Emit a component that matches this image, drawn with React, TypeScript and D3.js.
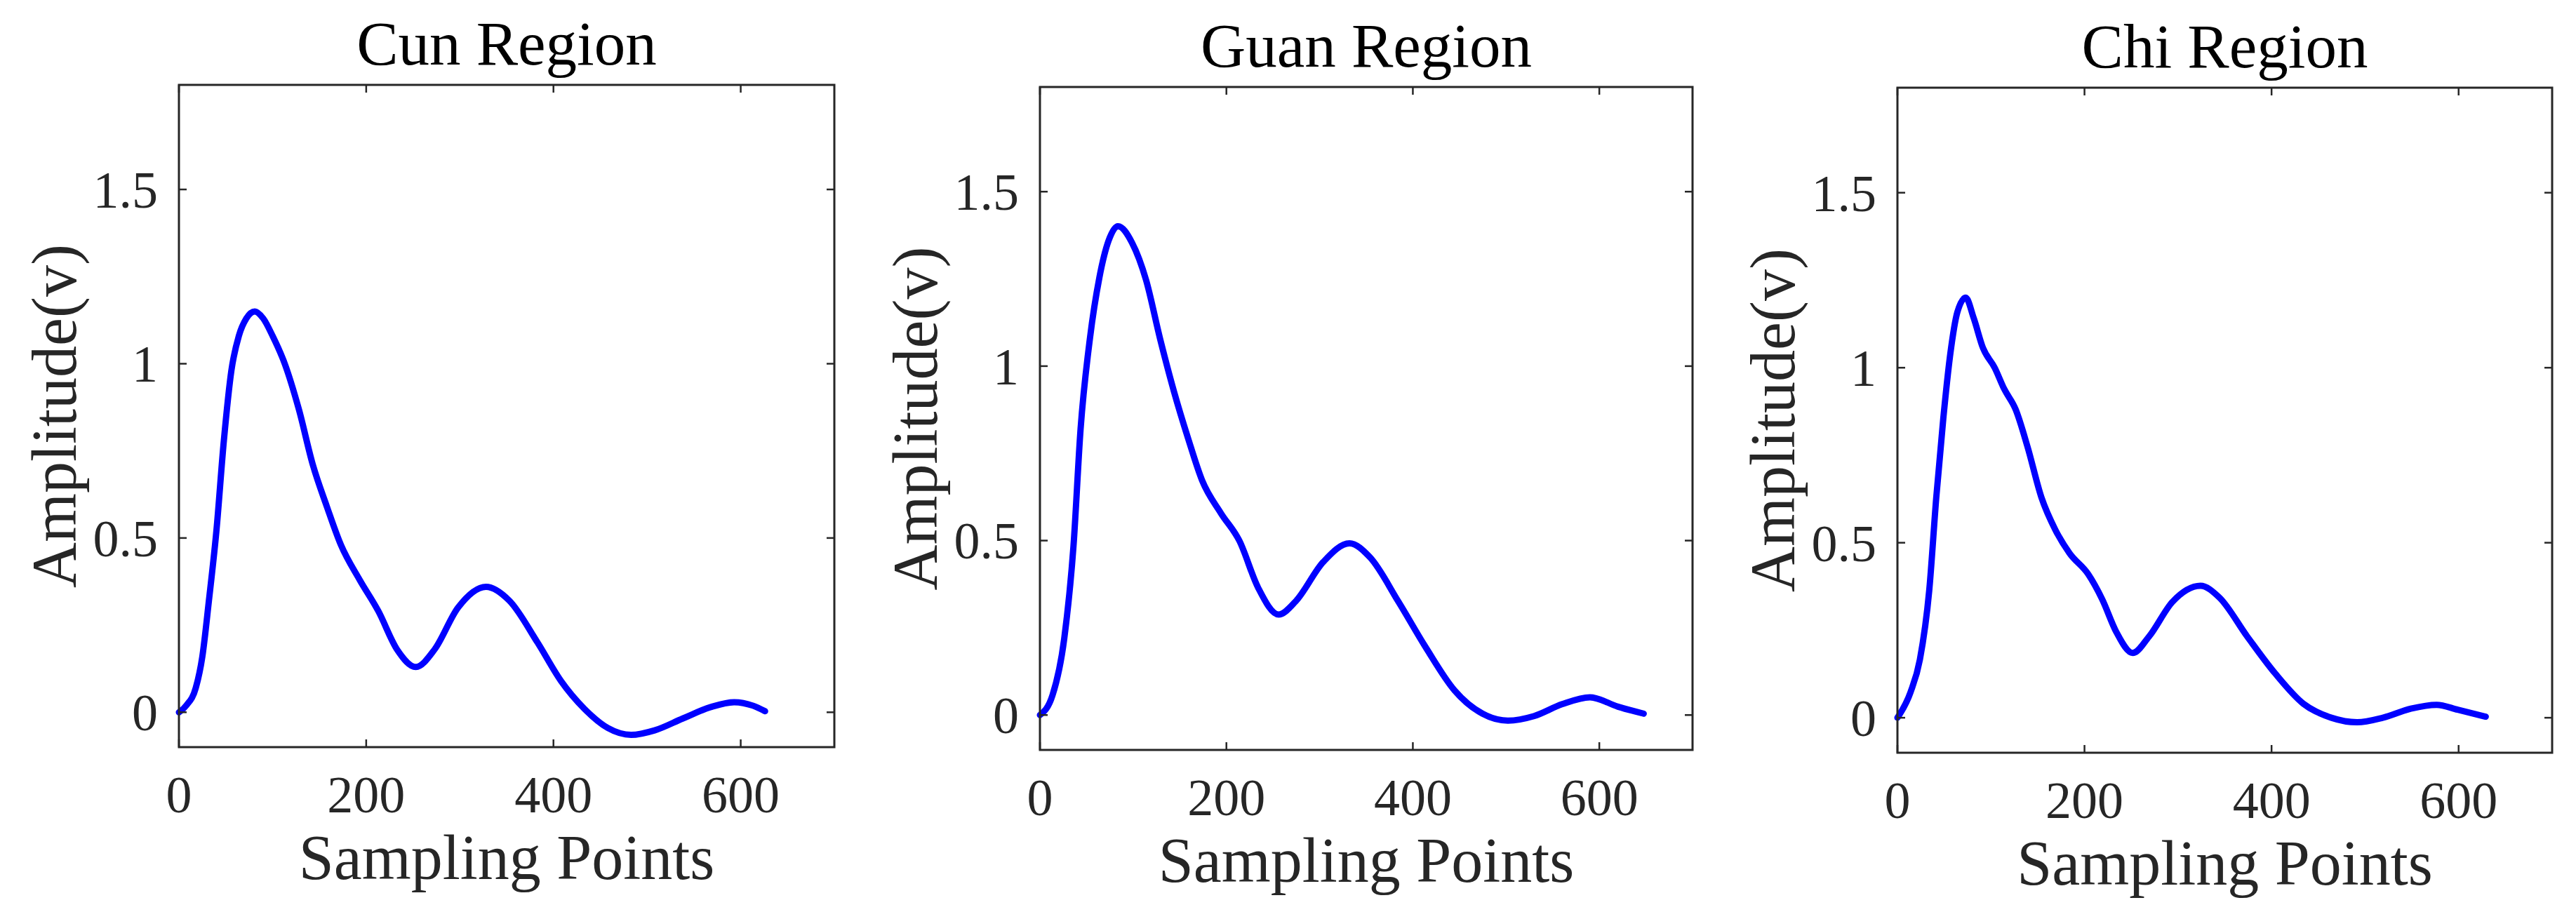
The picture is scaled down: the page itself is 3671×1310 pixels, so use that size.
import React from "react";
import * as d3 from "d3";

// ---- Data ----
const titles = ["Cun Region", "Guan Region", "Chi Region"];
const xTicks = [0, 200, 400, 600];
const yTicks = [0, 0.5, 1, 1.5];
const yTickLabels = ["0", "0.5", "1", "1.5"];
const xLabel = "Sampling Points";
const yLabel = "Amplitude(v)";

const cunX = [0, 8, 18, 25, 32, 40, 48, 56, 64, 72, 81, 90, 100, 113, 128, 143, 158, 173, 193, 213, 233, 253, 273, 298, 328, 353, 383, 408, 433, 458, 483, 508, 538, 568, 593, 613, 626];
const cunY = [0, 0.02, 0.07, 0.16, 0.32, 0.52, 0.78, 0.98, 1.08, 1.13, 1.15, 1.13, 1.08, 1.0, 0.87, 0.71, 0.59, 0.48, 0.38, 0.29, 0.18, 0.13, 0.18, 0.3, 0.36, 0.32, 0.2, 0.09, 0.01, -0.045, -0.065, -0.052, -0.018, 0.015, 0.029, 0.019, 0.003];

const guanX = [0, 13.5, 26, 36, 43.6, 53.6, 63.7, 73.7, 83.7, 98.7, 113.8, 128.8, 143.9, 158.9, 174, 194, 214, 234, 256, 274, 304, 332, 354, 384.5, 414.5, 444.6, 474.7, 502, 530, 560, 590, 620, 647.6];
const guanY = [0, 0.057, 0.218, 0.485, 0.82, 1.079, 1.253, 1.36, 1.401, 1.354, 1.247, 1.079, 0.926, 0.793, 0.672, 0.579, 0.499, 0.365, 0.288, 0.325, 0.439, 0.492, 0.452, 0.325, 0.191, 0.071, 0.004, -0.016, -0.003, 0.031, 0.051, 0.024, 0.004];

const chiX = [0, 14, 24, 34, 41.5, 49, 56.5, 64, 73, 81.5, 91.5, 104, 114, 126.5, 139, 154, 169, 184, 204, 219, 234, 251.5, 269, 294, 324, 344, 374, 404, 434, 464, 491.5, 519, 549, 576.5, 599, 629];
const chiY = [0, 0.073, 0.166, 0.364, 0.629, 0.854, 1.039, 1.158, 1.2, 1.142, 1.056, 1.0, 0.94, 0.88, 0.775, 0.629, 0.536, 0.47, 0.41, 0.338, 0.245, 0.185, 0.232, 0.331, 0.377, 0.344, 0.232, 0.126, 0.04, 0, -0.013, 0, 0.026, 0.037, 0.023, 0.003];

const seriesX = [cunX, guanX, chiX];
const seriesY = [cunY, guanY, chiY];

// ---- Layout ----
const W = 3671;
const H = 1310;
const panels = [
  { left: 255, right: 1189, top: 121, bottom: 1065 },
  { left: 1482, right: 2412, top: 124, bottom: 1069 },
  { left: 2704, right: 3637, top: 125, bottom: 1073 },
];
const FONT = "'Liberation Serif', 'Times New Roman', serif";
const AXIS_COLOR = "#262626";
const TICK_LEN = 11;

function Panel({ idx }: { idx: number }) {
  const p = panels[idx];
  const x = d3.scaleLinear().domain([0, 700]).range([p.left, p.right]);
  const y = d3.scaleLinear().domain([-0.1, 1.8]).range([p.bottom, p.top]);
  const pts: [number, number][] = seriesX[idx].map((v, i) => [v, seriesY[idx][i]]);
  const line = d3
    .line<[number, number]>()
    .x((d) => x(d[0]))
    .y((d) => y(d[1]))
    .curve(d3.curveMonotoneX);
  const cx = (p.left + p.right) / 2;
  const cy = (p.top + p.bottom) / 2;
  return (
    <g>
      <path d={line(pts) || ""} fill="none" stroke="#0000ff" strokeWidth={9} strokeLinejoin="round" strokeLinecap="round" />
      <rect x={p.left} y={p.top} width={p.right - p.left} height={p.bottom - p.top} fill="none" stroke={AXIS_COLOR} strokeWidth={3} />
      {xTicks.map((t) => (
        <g key={"xt" + t}>
          <line x1={x(t)} x2={x(t)} y1={p.bottom} y2={p.bottom - TICK_LEN} stroke={AXIS_COLOR} strokeWidth={2.5} />
          <line x1={x(t)} x2={x(t)} y1={p.top} y2={p.top + TICK_LEN} stroke={AXIS_COLOR} strokeWidth={2.5} />
          <text x={x(t)} y={p.bottom + 93} textAnchor="middle" fontFamily={FONT} fontSize={74} fill={AXIS_COLOR}>
            {t}
          </text>
        </g>
      ))}
      {yTicks.map((t, i) => (
        <g key={"yt" + t}>
          <line x1={p.left} x2={p.left + TICK_LEN} y1={y(t)} y2={y(t)} stroke={AXIS_COLOR} strokeWidth={2.5} />
          <line x1={p.right} x2={p.right - TICK_LEN} y1={y(t)} y2={y(t)} stroke={AXIS_COLOR} strokeWidth={2.5} />
          <text x={p.left - 30} y={y(t)} dy="0.35em" textAnchor="end" fontFamily={FONT} fontSize={74} fill={AXIS_COLOR}>
            {yTickLabels[i]}
          </text>
        </g>
      ))}
      <text x={cx} y={p.top - 29} textAnchor="middle" fontFamily={FONT} fontSize={89} fill="#000">
        {titles[idx]}
      </text>
      <text x={cx} y={p.bottom + 188} textAnchor="middle" fontFamily={FONT} fontSize={90} fill={AXIS_COLOR}>
        {xLabel}
      </text>
      <text
        transform={`translate(${p.left - 147},${cy}) rotate(-90)`}
        textAnchor="middle"
        fontFamily={FONT}
        fontSize={90}
        fill={AXIS_COLOR}
      >
        {yLabel}
      </text>
    </g>
  );
}

export default function App() {
  return (
    <svg
      width={W}
      height={H}
      viewBox={`0 0 ${W} ${H}`}
      style={{ position: "absolute", left: 0, top: 0, background: "#fff" }}
    >
      <rect x={0} y={0} width={W} height={H} fill="#fff" />
      {panels.map((_, i) => (
        <Panel key={i} idx={i} />
      ))}
    </svg>
  );
}
